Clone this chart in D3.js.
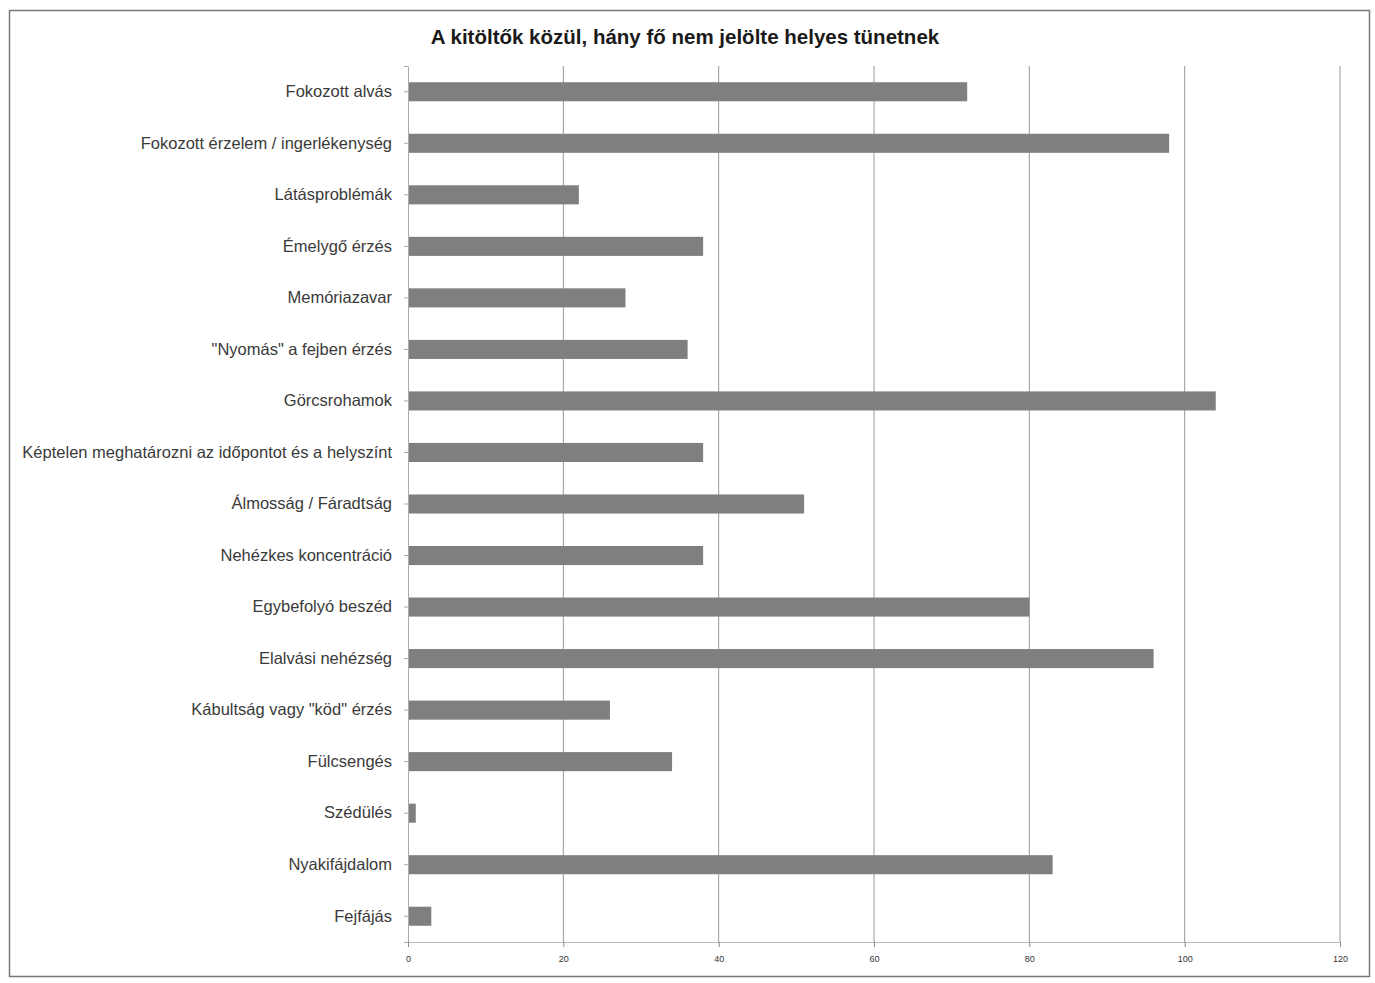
<!DOCTYPE html>
<html>
<head>
<meta charset="utf-8">
<script src="https://cdn.jsdelivr.net/npm/d3@7"></script>
<style>
  body { margin: 0; background: #fff; }
  svg { display: block; }
</style>
</head>
<body>
<script>
// kategóriák (felülről lefelé) és értékek
var categories = [
  "Fokozott alvás",
  "Fokozott érzelem / ingerlékenység",
  "Látásproblémák",
  "Émelygő érzés",
  "Memóriazavar",
  "\"Nyomás\" a fejben érzés",
  "Görcsrohamok",
  "Képtelen meghatározni az időpontot  és a helyszínt",
  "Álmosság / Fáradtság",
  "Nehézkes koncentráció",
  "Egybefolyó beszéd",
  "Elalvási nehézség",
  "Kábultság vagy \"köd\" érzés",
  "Fülcsengés",
  "Szédülés",
  "Nyakifájdalom",
  "Fejfájás"
]
var values = [72, 98, 22, 38, 28, 36, 104, 38, 51, 38, 80, 96, 26, 34, 1, 83, 3]
var xTicks = [0, 20, 40, 60, 80, 100, 120]
var title = "A kitöltők közül, hány fő nem jelölte helyes tünetnek"

var width = 1375,
    height = 983

var svg = d3.select("body")
    .append("svg")
    .attr("width", width)
    .attr("height", height)

// keret
svg.append("rect")
    .attr("x", 9.5).attr("y", 10.5)
    .attr("width", 1360).attr("height", 966)
    .attr("fill", "#fff")
    .attr("stroke", "#777")
    .attr("stroke-width", 1.5)

svg.append("text")
    .attr("x", 685).attr("y", 44)
    .attr("text-anchor", "middle")
    .attr("font-family", "Liberation Sans, Arial, sans-serif")
    .attr("font-weight", "bold")
    .attr("font-size", 20.5)
    .attr("fill", "#1a1a1a")
    .text(title)

var x = d3.scaleLinear()
    .domain([0, 120])
    .range([408, 1340])

var y = d3.scaleBand()
    .domain(categories)
    .range([66, 942])
    .paddingInner(0.63)
    .paddingOuter(0.315)

// rácsvonalak
svg.append("g")
    .selectAll("line")
    .data(xTicks.slice(1))
    .enter().append("line")
    .attr("x1", d => x(d)).attr("x2", d => x(d))
    .attr("y1", 66).attr("y2", 942)
    .attr("stroke", "#999")
    .attr("stroke-width", 1)

svg.append("g")
    .selectAll("rect")
    .data(values)
    .enter().append("rect")
    .attr("x", x(0))
    .attr("y", (d, i) => y(categories[i]))
    .attr("width", d => x(d) - x(0))
    .attr("height", y.bandwidth())
    .attr("fill", "#7f7f7f")

// y tengely
var yAxis = svg.append("g")
    .attr("transform", "translate(" + x(0) + ",0)")
    .call(d3.axisLeft(y).tickSize(4).tickPadding(12))
yAxis.select(".domain").attr("stroke", "#aaa")
yAxis.selectAll(".tick line").attr("stroke", "#aaa")
yAxis.selectAll("text")
    .attr("font-family", "Liberation Sans, Arial, sans-serif")
    .attr("font-size", 16.5)
    .attr("fill", "#3a3a3a")

// x tengely
var xAxis = svg.append("g")
    .attr("transform", "translate(0,942)")
    .call(d3.axisBottom(x).tickValues(xTicks).tickSize(5).tickPadding(9))
xAxis.select(".domain").attr("stroke", "#bbb")
xAxis.selectAll(".tick line").attr("stroke", "#888")
xAxis.selectAll("text")
    .attr("font-family", "Liberation Sans, Arial, sans-serif")
    .attr("font-size", 9)
    .attr("fill", "#333")
</script>
</body>
</html>
